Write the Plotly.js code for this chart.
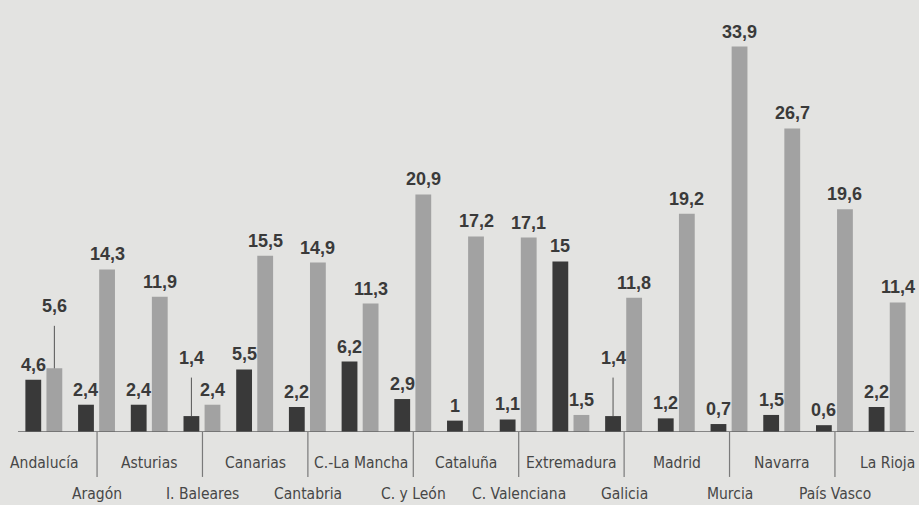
<!DOCTYPE html>
<html>
<head>
<meta charset="utf-8">
<script src="https://cdn.plot.ly/plotly-3.0.1.min.js"></script>
<style>
  html, body { margin: 0; padding: 0; background: #e3e3e1; }
  #chart { width: 919px; height: 505px; }
</style>
</head>
<body>
<div id="chart"></div>
<script>
// ---- data ----
const categories = ["Andalucía", "Aragón", "Asturias", "I. Baleares", "Canarias", "Cantabria",
  "C.-La Mancha", "C. y León", "Cataluña", "C. Valenciana", "Extremadura", "Galicia",
  "Madrid", "Murcia", "Navarra", "País Vasco", "La Rioja"];
const seriesDark  = [4.6, 2.4, 2.4, 1.4, 5.5, 2.2, 6.2, 2.9, 1, 1.1, 15, 1.4, 1.2, 0.7, 1.5, 0.6, 2.2];
const seriesLight = [5.6, 14.3, 11.9, 2.4, 15.5, 14.9, 11.3, 20.9, 17.2, 17.1, 1.5, 11.8, 19.2, 33.9, 26.7, 19.6, 11.4];

// labels that are lifted with a thin leader line: key = "categoryIndex-series" (0 dark, 1 light), value = lift in px
const leaderLabels = { "0-1": 62, "3-0": 58, "11-0": 58 };

// ---- style ----
const darkColor = "#393939";
const lightColor = "#a2a2a2";
const labelFont = { family: "Liberation Sans Narrow, Arial Narrow, sans-serif", size: 18, color: "#3a3a3a", weight: "bold" };
const catFont = { family: "DejaVu Sans Condensed, Liberation Sans, sans-serif", size: 15.5, color: "#474747", stretch: "condensed" };
const barWidth = 0.30;
const offsets = [-0.36, 0.04];

const idx = categories.map((_, i) => i);
const fmt = v => String(v).replace(".", ",");

const traces = [seriesDark, seriesLight].map((vals, s) => ({
  type: "bar",
  x: idx,
  y: vals,
  width: barWidth,
  offset: offsets[s],
  marker: { color: s === 0 ? darkColor : lightColor, line: { width: 0 } },
  hoverinfo: "skip",
  showlegend: false
}));

const annotations = [];
[seriesDark, seriesLight].forEach((vals, s) => {
  vals.forEach((v, i) => {
    const key = i + "-" + s;
    const xc = i + offsets[s] + barWidth / 2;
    if (leaderLabels[key]) {
      annotations.push({
        x: xc, y: v, xref: "x", yref: "y",
        text: "<b>" + fmt(v) + "</b>", font: labelFont,
        showarrow: true, arrowhead: 0, arrowwidth: 1, arrowcolor: "#555",
        ax: 0, ay: -leaderLabels[key], standoff: 0, startstandoff: 8
      });
    } else {
      annotations.push({
        x: xc, y: v, xref: "x", yref: "y",
        text: "<b>" + fmt(v) + "</b>", font: labelFont,
        showarrow: false, yanchor: "bottom", yshift: 3
      });
    }
  });
});

categories.forEach((c, i) => {
  annotations.push({
    x: i, y: 0, xref: "x", yref: "paper",
    text: c, font: catFont, showarrow: false,
    yanchor: "middle", yshift: i % 2 === 0 ? -31 : -62
  });
});

const shapes = [{
  type: "line", xref: "paper", yref: "y", x0: 0, x1: 1, y0: 0, y1: 0,
  line: { color: "#666", width: 1.5 }
}];
idx.filter(i => i % 2 === 1).forEach(i => {
  shapes.push({
    type: "line", xref: "x", yref: "paper", x0: i, x1: i, y0: 0, y1: -0.104,
    line: { color: "#7a7a7a", width: 1.2 }
  });
});

const layout = {
  width: 919, height: 505,
  margin: { l: 18, r: 5, t: 0, b: 73 },
  paper_bgcolor: "#e3e3e1",
  plot_bgcolor: "#e3e3e1",
  barmode: "overlay",
  xaxis: { range: [-0.5, 16.5], showticklabels: false, showgrid: false, zeroline: false, showline: false, fixedrange: true },
  yaxis: { range: [0, 38], showticklabels: false, showgrid: false, zeroline: false, showline: false, fixedrange: true },
  annotations: annotations,
  shapes: shapes
};

Plotly.newPlot("chart", traces, layout, { displayModeBar: false, staticPlot: true });
</script>
</body>
</html>
